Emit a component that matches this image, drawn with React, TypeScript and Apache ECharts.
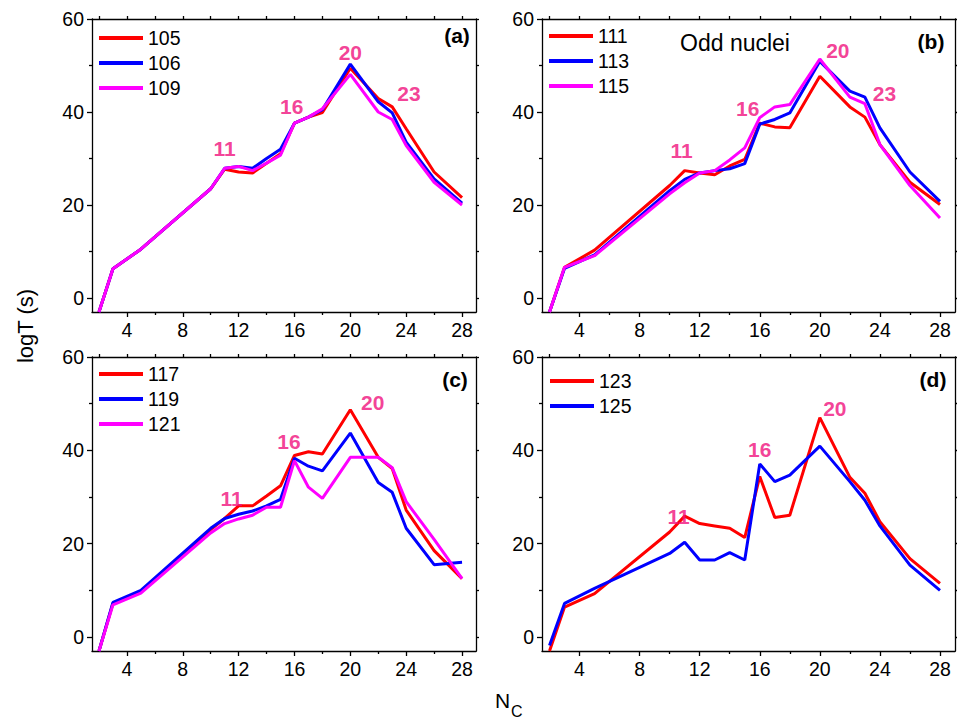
import React, { useEffect, useRef } from "react";
import * as echarts from "echarts";

// N_C values (x axis)
const NC = [2, 3, 5, 10, 11, 12, 13, 14, 15, 16, 17, 18, 20, 22, 23, 24, 26, 28];

// Panel (a)
const A105 = [-3, 6.3, 10.5, 23.5, 27.7, 27.1, 26.9, 29.0, 31.0, 37.6, 38.9, 39.9, 49.4, 42.9, 41.1, 36.4, 27.1, 21.6];
const A106 = [-3, 6.3, 10.5, 23.5, 27.9, 28.3, 27.9, 30.0, 32.0, 37.6, 38.9, 40.5, 50.3, 42.2, 39.8, 33.5, 25.6, 20.4];
const A109 = [-3, 6.3, 10.5, 23.5, 27.9, 28.3, 27.4, 29.0, 30.7, 37.6, 38.9, 40.7, 48.1, 40.0, 38.4, 32.8, 24.9, 20.0];
// Panel (b)
const B111 = [-3, 6.6, 10.3, 24.2, 27.4, 26.9, 26.5, 28.4, 29.8, 37.6, 36.8, 36.6, 47.7, 41.1, 38.9, 33.0, 24.9, 20.1];
const B113 = [-3, 6.4, 9.3, 23.1, 25.5, 26.9, 27.4, 27.8, 28.9, 37.4, 38.4, 39.8, 50.9, 44.5, 43.2, 36.6, 27.1, 20.8];
const B115 = [-3, 6.6, 9.1, 22.4, 24.8, 26.9, 27.4, 29.7, 32.3, 38.8, 41.1, 41.6, 51.4, 43.2, 41.8, 33.0, 24.2, 17.2];
// Panel (c)
const C117 = [-3, 7.2, 9.8, 23.0, 25.4, 28.1, 28.1, 30.2, 32.4, 38.9, 39.7, 39.2, 48.7, 38.5, 36.1, 27.2, 18.5, 12.5];
const C119 = [-3, 7.4, 10.0, 23.3, 25.4, 26.3, 27.0, 28.1, 29.5, 38.3, 36.6, 35.6, 43.7, 33.1, 31.0, 23.3, 15.5, 16.0];
const C121 = [-3, 6.9, 9.4, 22.3, 24.3, 25.3, 26.1, 27.8, 27.8, 37.8, 32.1, 29.7, 38.5, 38.5, 36.3, 29.0, 20.9, 12.5];
// Panel (d)
const D123 = [-3, 6.4, 9.3, 22.5, 25.9, 24.3, 23.8, 23.3, 21.3, 34.4, 25.6, 26.1, 47.0, 34.2, 30.8, 24.7, 16.8, 11.5];
const D125 = [-1.8, 7.2, 10.4, 17.9, 20.3, 16.5, 16.5, 18.1, 16.5, 37.1, 33.3, 34.7, 40.9, 33.3, 29.3, 23.8, 15.4, 10.0];

// Magic-number annotations: [N_C, logT, text]
const ANN_A: [number, number, string][] = [[11, 32.1, "11"], [15.8, 41.1, "16"], [20, 52.9, "20"], [24.2, 44, "23"]];
const ANN_B: [number, number, string][] = [[10.8, 31.8, "11"], [15.2, 40.7, "16"], [21.2, 53.3, "20"], [24.3, 44, "23"]];
const ANN_C: [number, number, string][] = [[11.5, 29.7, "11"], [15.6, 41.9, "16"], [21.6, 50.3, "20"]];
const ANN_D: [number, number, string][] = [[10.6, 25.8, "11"], [16.0, 40.2, "16"], [21.0, 49.0, "20"]];

// Tick values
const X_MAJOR = [4, 8, 12, 16, 20, 24, 28];
const X_MINOR = [6, 10, 14, 18, 22, 26];
const X_TOP = [2, 4, 6, 8, 10, 12, 14, 16, 18, 20, 22, 24, 26, 28];
const Y_MAJOR = [0, 20, 40, 60];
const Y_MINOR = [10, 30, 50];
const Y_RIGHT = [0, 10, 20, 30, 40, 50, 60];

const RED = "#FF0000";
const BLUE = "#0000FF";
const MAGENTA = "#FF00FF";
const PINK = "#F0107C";
const FONT = "'Liberation Sans', Arial, sans-serif";

const PANELS = [
  { grid: { left: 92, top: 19, width: 384, height: 293 }, legend: { left: 99, top: 28 }, tag: "(a)", tagPos: [457, 35], ann: ANN_A,
    series: [["105", A105, RED], ["106", A106, BLUE], ["109", A109, MAGENTA]] },
  { grid: { left: 542, top: 19, width: 413, height: 293 }, legend: { left: 549, top: 26 }, tag: "(b)", tagPos: [931, 41], ann: ANN_B,
    series: [["111", B111, RED], ["113", B113, BLUE], ["115", B115, MAGENTA]] },
  { grid: { left: 92, top: 357, width: 384, height: 294 }, legend: { left: 99, top: 364 }, tag: "(c)", tagPos: [455, 379], ann: ANN_C,
    series: [["117", C117, RED], ["119", C119, BLUE], ["121", C121, MAGENTA]] },
  { grid: { left: 542, top: 357, width: 413, height: 294 }, legend: { left: 550, top: 371 }, tag: "(d)", tagPos: [933, 379], ann: ANN_D,
    series: [["123", D123, RED], ["125", D125, BLUE]] },
] as const;

const AX_LINE = { color: "#000", width: 1.3 };

function centerText(x: number, y: number, text: string, fontSize: number, extra: any = {}, rotation = 0) {
  return {
    type: "text", x, y, rotation,
    style: {
      text, fill: "#000", fontSize, fontFamily: FONT,
      textAlign: "center", textVerticalAlign: "middle", align: "center", verticalAlign: "middle",
      ...extra,
    },
  };
}

function buildOption() {
  const xAxis: any[] = [];
  const yAxis: any[] = [];
  const series: any[] = [];
  const legend: any[] = [];
  const graphic: any[] = [];
  const grid: any[] = [];

  PANELS.forEach((p: any, gi: number) => {
    grid.push({ ...p.grid, containLabel: false });
    const xb = { type: "value", gridIndex: gi, min: 1.5, max: 29, splitLine: { show: false } };
    const yb = { type: "value", gridIndex: gi, min: -3, max: 60, splitLine: { show: false } };
    xAxis.push({
      ...xb, position: "bottom",
      axisLine: { show: true, onZero: false, lineStyle: AX_LINE },
      axisTick: { show: true, inside: false, length: 5, customValues: X_MAJOR, lineStyle: AX_LINE },
      axisLabel: { show: true, customValues: X_MAJOR, fontSize: 19.5, color: "#000", fontFamily: FONT, margin: 8 },
    });
    xAxis.push({
      ...xb, position: "bottom",
      axisLine: { show: false, onZero: false },
      axisTick: { show: true, inside: false, length: 3, customValues: X_MINOR, lineStyle: AX_LINE },
      axisLabel: { show: false },
    });
    xAxis.push({
      ...xb, position: "top",
      axisLine: { show: true, onZero: false, lineStyle: AX_LINE },
      axisTick: { show: true, inside: false, length: 3, customValues: X_TOP, lineStyle: AX_LINE },
      axisLabel: { show: false },
    });
    yAxis.push({
      ...yb, position: "left",
      axisLine: { show: true, onZero: false, lineStyle: AX_LINE },
      axisTick: { show: true, inside: false, length: 5, customValues: Y_MAJOR, lineStyle: AX_LINE },
      axisLabel: { show: true, customValues: Y_MAJOR, fontSize: 19.5, color: "#000", fontFamily: FONT, margin: 8 },
    });
    yAxis.push({
      ...yb, position: "left",
      axisLine: { show: false, onZero: false },
      axisTick: { show: true, inside: false, length: 3, customValues: Y_MINOR, lineStyle: AX_LINE },
      axisLabel: { show: false },
    });
    yAxis.push({
      ...yb, position: "right",
      axisLine: { show: true, onZero: false, lineStyle: AX_LINE },
      axisTick: { show: true, inside: false, length: 3, customValues: Y_RIGHT, lineStyle: AX_LINE },
      axisLabel: { show: false },
    });

    const names: string[] = [];
    p.series.forEach(([name, vals, color]: any) => {
      names.push(name);
      series.push({
        type: "line",
        name,
        xAxisIndex: gi * 3,
        yAxisIndex: gi * 3,
        data: NC.map((x, i) => [x, vals[i]]),
        symbol: "none",
        showSymbol: false,
        lineStyle: { color, width: 3 },
        itemStyle: { color },
        color,
        clip: true,
        z: 3,
      });
    });

    series.push({
      type: "scatter",
      name: "ann" + gi,
      xAxisIndex: gi * 3,
      yAxisIndex: gi * 3,
      symbolSize: 0,
      data: p.ann.map(([x, y, t]: any) => ({ value: [x, y], name: t })),
      label: {
        show: true, position: "inside", formatter: "{b}",
        color: PINK, fontSize: 21, fontWeight: "bold", fontFamily: FONT,
      },
      z: 5,
      silent: true,
    });

    legend.push({
      orient: "vertical",
      left: p.legend.left,
      top: p.legend.top,
      padding: 0,
      icon: "rect",
      itemWidth: 44,
      itemHeight: 4,
      itemGap: 5,
      data: names,
      textStyle: { fontSize: 19.5, color: "#000", fontFamily: FONT, lineHeight: 19 },
    });

    graphic.push(centerText(p.tagPos[0], p.tagPos[1], p.tag, 21, { fontWeight: "bold" }));
  });

  graphic.push(centerText(735, 43, "Odd nuclei", 23));
  graphic.push(centerText(25, 326, "logT (s)", 22, {}, Math.PI / 2));
  graphic.push({
    type: "text", x: 495, y: 700,
    style: {
      text: "N", fill: "#000", fontSize: 21, fontFamily: FONT,
      textAlign: "left", textVerticalAlign: "middle", align: "left", verticalAlign: "middle",
    },
  });
  graphic.push({
    type: "text", x: 511, y: 711,
    style: {
      text: "C", fill: "#000", fontSize: 16, fontFamily: FONT,
      textAlign: "left", textVerticalAlign: "middle", align: "left", verticalAlign: "middle",
    },
  });

  return {
    animation: false,
    backgroundColor: "#fff",
    textStyle: { fontFamily: FONT },
    grid,
    xAxis,
    yAxis,
    legend,
    series,
    graphic,
  };
}

export default function App() {
  const ref = useRef<HTMLDivElement>(null);
  useEffect(() => {
    if (!ref.current) return;
    const chart = echarts.init(ref.current, null, { renderer: "svg" });
    chart.setOption(buildOption() as any);
    return () => chart.dispose();
  }, []);
  return (
    <div
      ref={ref}
      style={{ position: "absolute", left: 0, top: 0, width: 957, height: 722 }}
    />
  );
}
